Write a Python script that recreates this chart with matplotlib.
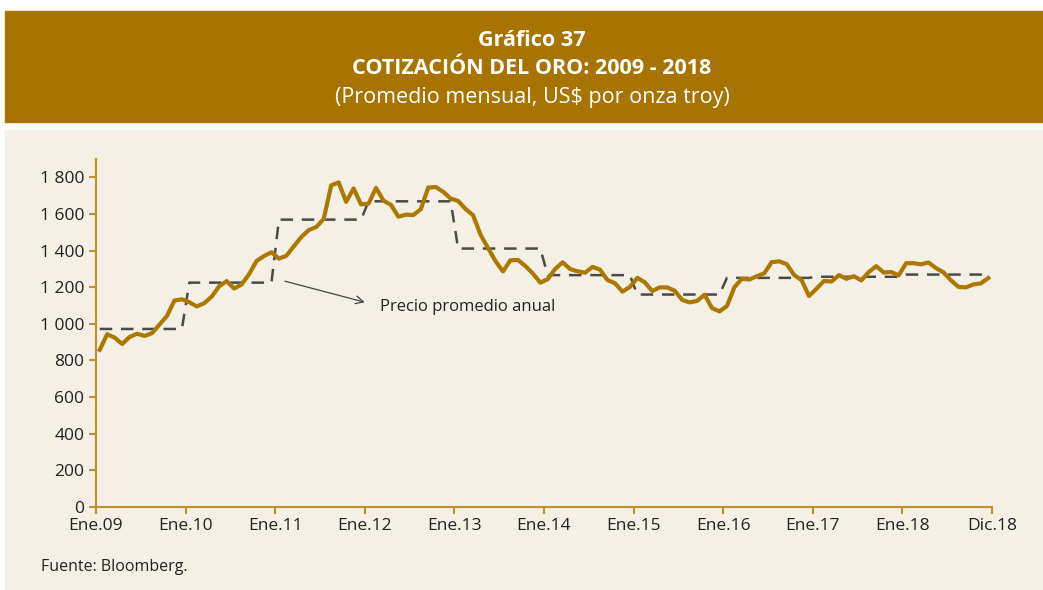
import numpy as np
import matplotlib
matplotlib.use("Agg")
import matplotlib.pyplot as plt
from matplotlib.patches import Rectangle
from matplotlib.ticker import FuncFormatter

# Monthly average gold price (US$ per troy ounce), Jan 2009 - Dec 2018
gold_2009 = [858, 943, 925, 890, 928, 946, 934, 949, 996, 1043, 1127, 1134]
gold_2010 = [1118, 1095, 1113, 1149, 1205, 1233, 1193, 1215, 1271, 1343, 1370, 1391]
gold_2011 = [1356, 1372, 1424, 1474, 1512, 1529, 1573, 1756, 1772, 1666, 1739, 1652]
gold_2012 = [1656, 1742, 1673, 1650, 1585, 1596, 1594, 1626, 1744, 1747, 1721, 1684]
gold_2013 = [1671, 1627, 1593, 1487, 1414, 1343, 1286, 1347, 1349, 1316, 1275, 1225]
gold_2014 = [1244, 1300, 1336, 1299, 1287, 1279, 1311, 1296, 1239, 1222, 1176, 1201]
gold_2015 = [1251, 1227, 1179, 1199, 1199, 1181, 1131, 1117, 1125, 1159, 1086, 1068]
gold_2016 = [1097, 1200, 1246, 1242, 1260, 1276, 1337, 1341, 1326, 1267, 1238, 1152]
gold_2017 = [1192, 1234, 1231, 1266, 1246, 1260, 1237, 1283, 1315, 1280, 1283, 1265]
gold_2018 = [1331, 1331, 1325, 1335, 1304, 1281, 1238, 1202, 1199, 1215, 1221, 1250]

years = [2009, 2010, 2011, 2012, 2013, 2014, 2015, 2016, 2017, 2018]
annual_avg = [972, 1225, 1569, 1669, 1411, 1266, 1160, 1251, 1257, 1269]

tick_labels = ["Ene.09", "Ene.10", "Ene.11", "Ene.12", "Ene.13", "Ene.14",
               "Ene.15", "Ene.16", "Ene.17", "Ene.18", "Dic.18"]

monthly = np.array(gold_2009 + gold_2010 + gold_2011 + gold_2012 + gold_2013
                   + gold_2014 + gold_2015 + gold_2016 + gold_2017 + gold_2018)
yearly_line = np.repeat(annual_avg, 12)
# each month sits in the middle of its slot
months = np.arange(len(monthly)) + 0.5

GOLD = "#AD7800"
HEADER = "#A87400"
PANEL = "#F4F0E6"
AXIS = "#C0902E"
TEXT = "#222222"

plt.rcParams["font.family"] = ["Open Sans", "DejaVu Sans"]

W, H = 1043, 590
fig = plt.figure(figsize=(W / 100, H / 100), dpi=100, facecolor="white")

# header band and chart panel (behind the axes)
fig.patches.append(Rectangle((5 / W, 1 - 122 / H), 1 - 5 / W, 111 / H,
                             transform=fig.transFigure, color=HEADER, zorder=-2))
fig.patches.append(Rectangle((5 / W, 1 - 589 / H), 1 - 5 / W, 459 / H,
                             transform=fig.transFigure, color=PANEL, zorder=-2))

fig.text(532 / W, 1 - 40 / H, "Gráfico 37", color="white", fontsize=15.5,
         fontweight="bold", ha="center", va="center")
fig.text(532 / W, 1 - 68 / H, "COTIZACIÓN DEL ORO: 2009 - 2018", color="white",
         fontsize=15.5, fontweight="bold", ha="center", va="center")
fig.text(532 / W, 1 - 97 / H, "(Promedio mensual, US$ por onza troy)", color="white",
         fontsize=15.5, ha="center", va="center")

ax = fig.add_axes([96 / W, 1 - 507 / H, 896 / W, 348 / H])
ax.set_facecolor("none")

ax.plot(months, yearly_line, color="#4A4A4A", linewidth=1.8,
        dashes=(5, 3.5), zorder=2)
ax.plot(months, monthly, color=GOLD, linewidth=3.0, solid_joinstyle="round", zorder=3)

ax.set_xlim(0, 120)
ax.set_ylim(0, 1900)
ax.set_xticks(np.arange(0, 121, 12))
ax.set_xticklabels(tick_labels)
ax.set_yticks(np.arange(0, 1801, 200))
ax.yaxis.set_major_formatter(FuncFormatter(lambda v, p: f"{v:,.0f}".replace(",", " ")))

for side in ["top", "right"]:
    ax.spines[side].set_visible(False)
for side in ["left", "bottom"]:
    ax.spines[side].set_color(AXIS)
    ax.spines[side].set_linewidth(1.5)
ax.tick_params(axis="both", colors=AXIS, labelcolor=TEXT, labelsize=12.5,
               width=1.5, length=5)
ax.tick_params(axis="x", pad=3)

# arrow pointing from the annual average line to its label
ax.annotate("", xy=(36.0, 1118), xytext=(25.3, 1233),
            arrowprops=dict(arrowstyle="->", color="#444444", lw=0.9,
                            mutation_scale=14, shrinkA=0, shrinkB=0))
ax.text(38.0, 1091, "Precio promedio anual", fontsize=12, color=TEXT, va="center")

fig.text(41 / W, 1 - 567 / H, "Fuente: Bloomberg.", fontsize=11.5, color=TEXT,
         ha="left", va="center")

fig.savefig("out.png", dpi=100, facecolor="white")
